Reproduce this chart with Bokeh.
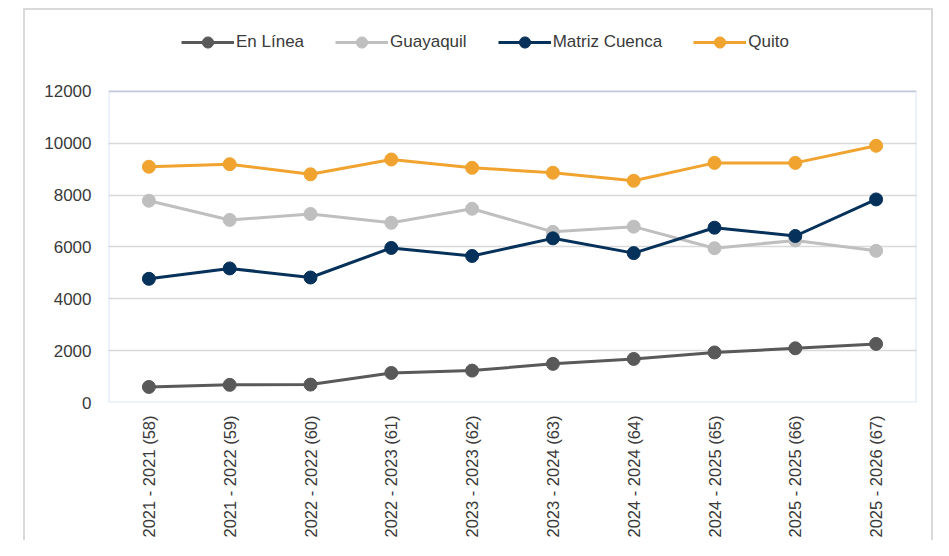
from bokeh.plotting import figure
from bokeh.models import (FactorRange, Range1d, FixedTicker, Legend, LegendItem,
                          InlineStyleSheet, BoxAnnotation)
from bokeh.embed import file_html
from bokeh.resources import INLINE

# ---- data ----
categories = ["2021 - 2021 (58)", "2021 - 2022 (59)", "2022 - 2022 (60)",
              "2022 - 2023 (61)", "2023 - 2023 (62)", "2023 - 2024 (63)",
              "2024 - 2024 (64)", "2024 - 2025 (65)", "2025 - 2025 (66)",
              "2025 - 2026 (67)"]
en_linea = [600, 680, 690, 1140, 1230, 1490, 1680, 1930, 2090, 2260]
guayaquil = [7780, 7040, 7270, 6930, 7470, 6580, 6780, 5950, 6250, 5850]
matriz_cuenca = [4770, 5170, 4820, 5960, 5650, 6330, 5760, 6740, 6420, 7830]
quito = [9090, 9190, 8800, 9370, 9050, 8860, 8550, 9240, 9240, 9900]
series_names = ["En Línea", "Guayaquil", "Matriz Cuenca", "Quito"]
y_ticks = [0, 2000, 4000, 6000, 8000, 10000, 12000]
y_max = 12000

colors = ["#595959", "#bfbfbf", "#05315a", "#f0a32f"]
FONT = "Liberation Sans"
TEXT = "#3a3a3a"

# frame extends above the value area to host the legend (value area 0..12000)
p = figure(width=933, height=540, x_range=FactorRange(*categories),
           y_range=Range1d(0, 15000), output_backend="svg",
           toolbar_location=None, min_border_left=108, min_border_right=17,
           min_border_top=13, min_border_bottom=137)
p.background_fill_color = "white"
p.border_fill_color = "white"
p.outline_line_color = None

p.xgrid.grid_line_color = None
p.ygrid.grid_line_color = "#d9d9d9"
p.ygrid.grid_line_width = 1.5

p.yaxis.ticker = FixedTicker(ticks=y_ticks)
for ax in (p.xaxis[0], p.yaxis[0]):
    ax.axis_line_color = None
    ax.major_tick_line_color = None
    ax.minor_tick_line_color = None
    ax.major_tick_out = 0
    ax.major_tick_in = 0
    ax.major_label_text_font = FONT
    ax.major_label_text_color = TEXT
p.yaxis.major_label_text_font_size = "17px"
p.yaxis.major_label_standoff = 17
p.xaxis.major_label_text_font_size = "16.5px"
p.xaxis.major_label_orientation = 1.5707963
p.xaxis.major_label_standoff = 13

# plot-area border (blue) around the value area
p.add_layout(BoxAnnotation(bottom=0, top=y_max, fill_color=None,
                           line_color="#8faadc", line_width=2))

items = []
for name, vals, col in zip(series_names,
                           [en_linea, guayaquil, matriz_cuenca, quito], colors):
    l = p.line(categories, vals, line_color=col, line_width=3)
    s = p.scatter(categories, vals, size=13, fill_color=col, line_color=col)
    items.append(LegendItem(label=name, renderers=[l, s]))

legend = Legend(items=items, orientation="horizontal", location=(73, 346),
                padding=0, margin=0, spacing=31, glyph_width=53,
                glyph_height=28, label_standoff=2, label_text_font=FONT,
                label_text_font_size="17px", label_text_color=TEXT,
                border_line_color=None, background_fill_alpha=0)
p.add_layout(legend, "center")

# light grey outer chart-area border (decoration only)
p.stylesheets = [InlineStyleSheet(css="""
:host { position: relative; }
:host::after {
  content: ""; position: absolute; left: 23px; top: 8px;
  width: 910px; height: 532px; box-sizing: border-box;
  border: 2px solid #d9d9d9; border-bottom: none; pointer-events: none;
}
""")]

open("out.html", "w").write(file_html(p, INLINE))
